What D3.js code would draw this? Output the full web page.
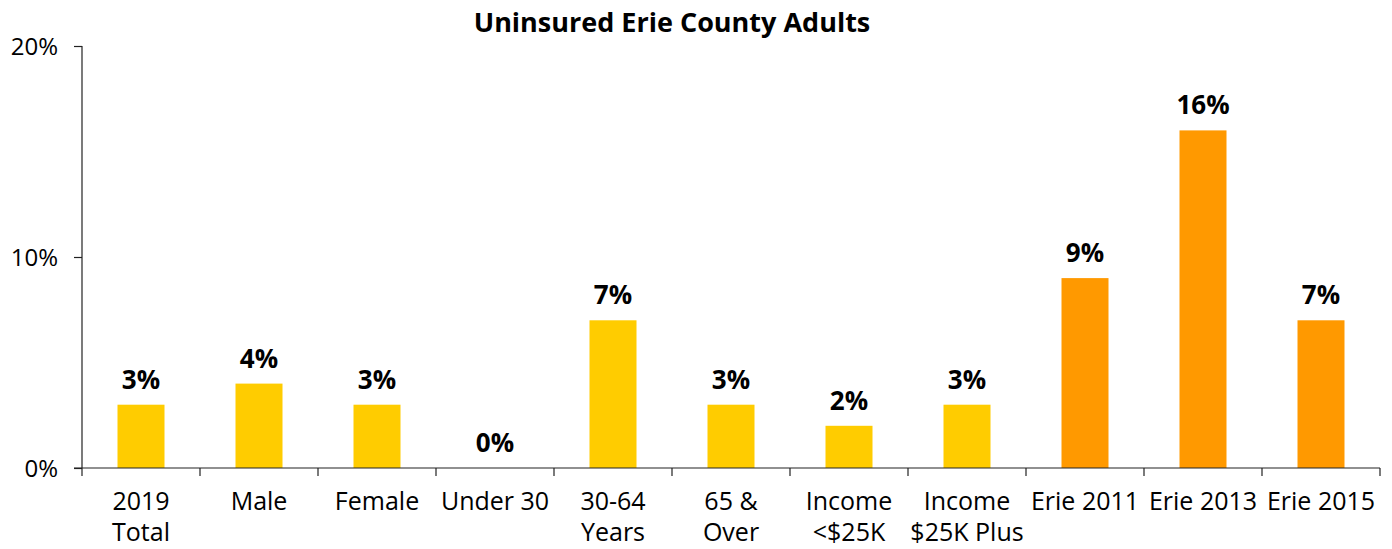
<!DOCTYPE html>
<html>
<head>
<meta charset="utf-8">
<script src="https://cdn.jsdelivr.net/npm/d3@7/dist/d3.min.js"></script>
<style>
  body { margin: 0; background: #fff; }
  svg { display: block; font-family: "Open Sans", "Noto Sans", sans-serif; }
</style>
</head>
<body>
<svg id="chart" width="1392" height="549"></svg>
<script>
// Category labels (each entry is split into lines)
const categories = [
  ["2019", "Total"], ["Male"], ["Female"], ["Under 30"], ["30-64", "Years"],
  ["65 &", "Over"], ["Income", "<$25K"], ["Income", "$25K Plus"],
  ["Erie 2011"], ["Erie 2013"], ["Erie 2015"]
];
// Percent uninsured
const values = [3, 4, 3, 0, 7, 3, 2, 3, 9, 16, 7];
// Group: current year breakdown vs. prior county surveys
const groups = ["2019", "2019", "2019", "2019", "2019", "2019", "2019", "2019", "trend", "trend", "trend"];
const yTicks = [0, 10, 20];
const title = "Uninsured Erie County Adults";

const colors = { "2019": "#FFCC00", "trend": "#FF9900" };

const svg = d3.select("#chart");
const margin = { left: 82, right: 12, top: 46, bottom: 81 };
const W = 1392, H = 549;

const keys = categories.map((c, i) => i);
const xb = d3.scaleBand().domain(keys).range([margin.left, W - margin.right]);
const y = d3.scaleLinear().domain([0, 20]).range([H - margin.bottom, margin.top]);

// Bars
svg.append("g").selectAll("rect").data(values).join("rect")
  .attr("x", (d, i) => xb(i) + xb.bandwidth() / 2 - 23.5)
  .attr("width", 47)
  .attr("y", d => y(d))
  .attr("height", d => y(0) - y(d))
  .attr("fill", (d, i) => colors[groups[i]]);

// Value labels
svg.append("g").selectAll("text").data(values).join("text")
  .attr("x", (d, i) => xb(i) + xb.bandwidth() / 2)
  .attr("y", d => y(d) - 16)
  .attr("text-anchor", "middle")
  .attr("font-size", 26)
  .attr("font-weight", "bold")
  .attr("fill", "#000")
  .text(d => d + "%");

// Y axis
const yAxis = svg.append("g")
  .attr("transform", `translate(${margin.left},0)`)
  .call(d3.axisLeft(y).tickValues(yTicks).tickFormat(d => d + "%").tickSize(8).tickPadding(16));
yAxis.selectAll("text").attr("font-size", 24).attr("fill", "#000").attr("font-family", "Open Sans, Noto Sans, sans-serif").attr("dy", "0.35em");
yAxis.selectAll("line, path").attr("stroke", "#222").attr("stroke-width", 1.2);
yAxis.select("path").attr("d", `M0,${y(0)}V${y(20)}`);

// X axis with tick marks on category boundaries
const xAxis = svg.append("g").attr("transform", `translate(0,${y(0)})`);
xAxis.append("line").attr("x1", margin.left - 8).attr("x2", W - margin.right).attr("stroke", "#222").attr("stroke-width", 1.2);
xAxis.selectAll(".tk").data(d3.range(keys.length + 1)).join("line")
  .attr("x1", i => margin.left + i * xb.step())
  .attr("x2", i => margin.left + i * xb.step())
  .attr("y1", 0).attr("y2", 8)
  .attr("stroke", "#222").attr("stroke-width", 1.2);

const lbl = xAxis.selectAll(".cat").data(categories).join("text")
  .attr("text-anchor", "middle")
  .attr("font-size", 25)
  .attr("fill", "#000")
  .attr("transform", (d, i) => `translate(${xb(i) + xb.bandwidth() / 2},42)`);
lbl.selectAll("tspan").data(d => d).join("tspan")
  .attr("x", 0)
  .attr("dy", (d, j) => j === 0 ? 0 : 31)
  .text(d => d);

// Title
svg.append("text")
  .attr("x", 672).attr("y", 32)
  .attr("text-anchor", "middle")
  .attr("font-size", 27)
  .attr("font-weight", "bold")
  .text(title);
</script>
</body>
</html>
